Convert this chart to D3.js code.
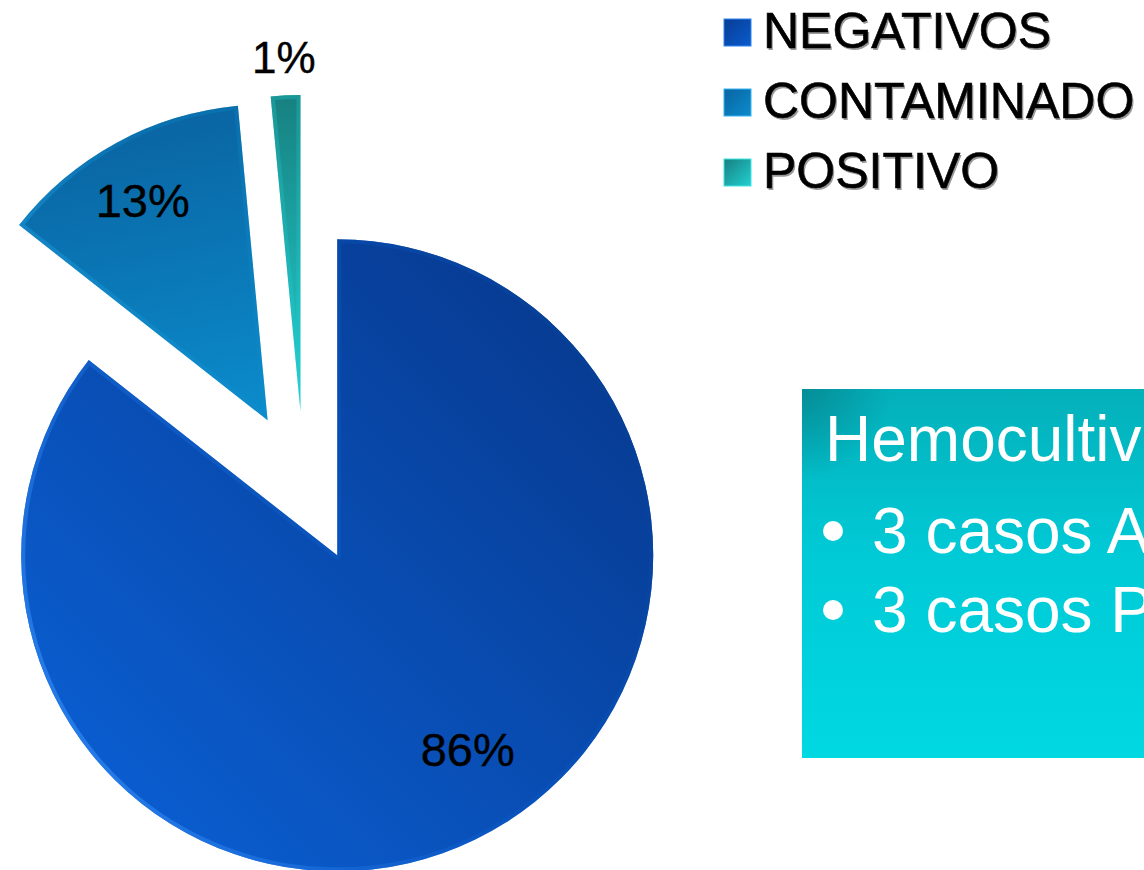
<!DOCTYPE html>
<html>
<head>
<meta charset="utf-8">
<script src="https://cdn.jsdelivr.net/npm/d3@7"></script>
<style>
  html, body { margin: 0; padding: 0; background: #fff; overflow: hidden; }
  svg { display: block; font-family: "Liberation Sans", Arial, sans-serif; }
</style>
</head>
<body>
<svg id="chart" width="1144" height="870"></svg>
<script>
// ---- data ----
const categories = ["NEGATIVOS", "CONTAMINADO", "POSITIVO"];
const values = [85.6, 12.9, 1.5];
const labels = ["86%", "13%", "1%"];
const boxTitle = "Hemocultivos";
const boxBullets = ["3 casos A", "3 casos P"];

// ---- styles / layout ----
const fills = [
  {a: "#0a5cce", b: "#073c94", light: "#2f86f0", dark: "#063a8c"},
  {a: "#0b8ccc", b: "#0a64a2", light: "#36b4f6", dark: "#095a92"},
  {a: "#22d0d2", b: "#178080", light: "#40e6e6", dark: "#126e6e"}
];
const cx = 304, cy = 487, R = 316, explode = 76;
const labelCfg = [{dAng: -8, rf: 0.74}, {dAng: -1, rf: 0.8}, {dAng: 0, rf: 1.12}];

const svg = d3.select("#chart");
const defs = svg.append("defs");

const pie = d3.pie().sort(null).value(d => d)(values);
const arc = d3.arc().innerRadius(0).outerRadius(R);

const g = svg.append("g").attr("transform", `translate(${cx},${cy})`);

pie.forEach((p, i) => {
  const mid = (p.startAngle + p.endAngle) / 2;
  const ox = explode * Math.sin(mid), oy = -explode * Math.cos(mid);
  const sg = g.append("g").attr("transform", `translate(${ox},${oy})`);

  const gid = "grad" + i;
  const lg = defs.append("linearGradient").attr("id", gid)
    .attr("gradientUnits", "userSpaceOnUse")
    .attr("x1", -R * 0.7).attr("y1", R * 0.7).attr("x2", R * 0.7).attr("y2", -R * 0.7);
  if (i === 1) lg.attr("x1", 0).attr("y1", 0).attr("x2", -R * 0.2).attr("y2", -R);
  if (i === 2) lg.attr("x1", 0).attr("y1", 0).attr("x2", 0).attr("y2", -R);
  lg.append("stop").attr("offset", "0%").attr("stop-color", fills[i].a);
  lg.append("stop").attr("offset", "100%").attr("stop-color", fills[i].b);

  const bid = "bev" + i;
  const bg = defs.append("linearGradient").attr("id", bid)
    .attr("gradientUnits", "userSpaceOnUse")
    .attr("x1", -R).attr("y1", R * 0.6).attr("x2", R).attr("y2", -R * 0.6);
  bg.append("stop").attr("offset", "0%").attr("stop-color", fills[i].light);
  bg.append("stop").attr("offset", "55%").attr("stop-color", fills[i].a).attr("stop-opacity", 0.3);
  bg.append("stop").attr("offset", "100%").attr("stop-color", fills[i].dark);

  const cid = "clip" + i;
  defs.append("clipPath").attr("id", cid).append("path").attr("d", arc(p)).attr("transform", `translate(${ox},${oy})`);

  sg.append("path").attr("d", arc(p)).attr("fill", `url(#${gid})`);
  g.append("g").attr("clip-path", `url(#${cid})`)
    .append("path").attr("d", arc(p)).attr("transform", `translate(${ox},${oy})`)
    .attr("fill", "none").attr("stroke", `url(#${bid})`).attr("stroke-width", 8)
    .attr("stroke-linejoin", "round").attr("opacity", 0.9);

  const la = mid + labelCfg[i].dAng * Math.PI / 180;
  const lr = R * labelCfg[i].rf;
  g.append("text")
    .attr("x", ox + lr * Math.sin(la))
    .attr("y", oy - lr * Math.cos(la))
    .attr("dy", "0.35em")
    .attr("text-anchor", "middle")
    .attr("font-size", i === 2 ? 44 : 47)
    .attr("fill", "#000")
    .attr("stroke", "#000").attr("stroke-width", 0.4)
    .text(labels[i]);
});

// ---- legend ----
const leg = svg.append("g").attr("transform", "translate(724,0)");
categories.forEach((c, i) => {
  const y0 = 48 + i * 70;
  const lgid = "lg" + i;
  const lgr = defs.append("linearGradient").attr("id", lgid)
    .attr("x1", 0).attr("y1", 0).attr("x2", 1).attr("y2", 1);
  lgr.append("stop").attr("offset", "0%").attr("stop-color", fills[i].b);
  lgr.append("stop").attr("offset", "100%").attr("stop-color", fills[i].a);
  leg.append("rect").attr("x", 0).attr("y", y0 - 29).attr("width", 27).attr("height", 27)
    .attr("fill", `url(#${lgid})`).attr("stroke", fills[i].light).attr("stroke-width", 1);
  leg.append("text").attr("x", 40.5).attr("y", y0 + 1.5).attr("font-size", 50)
    .attr("fill", "#9a9a9a").text(c);
  leg.append("text").attr("x", 39).attr("y", y0).attr("font-size", 50)
    .attr("fill", "#000").attr("stroke", "#000").attr("stroke-width", 0.6).text(c);
});

// ---- text box ----
const bgd = defs.append("linearGradient").attr("id", "boxg")
  .attr("x1", 0).attr("y1", 0).attr("x2", 0).attr("y2", 1);
bgd.append("stop").attr("offset", "0%").attr("stop-color", "#04b0ba");
bgd.append("stop").attr("offset", "45%").attr("stop-color", "#00cad6");
bgd.append("stop").attr("offset", "100%").attr("stop-color", "#00d8e2");
const rg = defs.append("radialGradient").attr("id", "boxc")
  .attr("cx", 0).attr("cy", 0).attr("r", 0.25);
rg.append("stop").attr("offset", "0%").attr("stop-color", "#06707a").attr("stop-opacity", 0.55);
rg.append("stop").attr("offset", "100%").attr("stop-color", "#06707a").attr("stop-opacity", 0);

const box = svg.append("g").attr("transform", "translate(802,389)");
box.append("rect").attr("width", 360).attr("height", 369).attr("fill", "url(#boxg)");
box.append("rect").attr("width", 360).attr("height", 369).attr("fill", "url(#boxc)");
box.append("text").attr("x", 23).attr("y", 72).attr("font-size", 64).attr("fill", "#fff").text(boxTitle);
boxBullets.forEach((t, i) => {
  const by = 164 + i * 79;
  box.append("circle").attr("cx", 31).attr("cy", by - 22).attr("r", 10).attr("fill", "#fff");
  box.append("text").attr("x", 70).attr("y", by).attr("font-size", 64).attr("fill", "#fff").text(t);
});
</script>
</body>
</html>
